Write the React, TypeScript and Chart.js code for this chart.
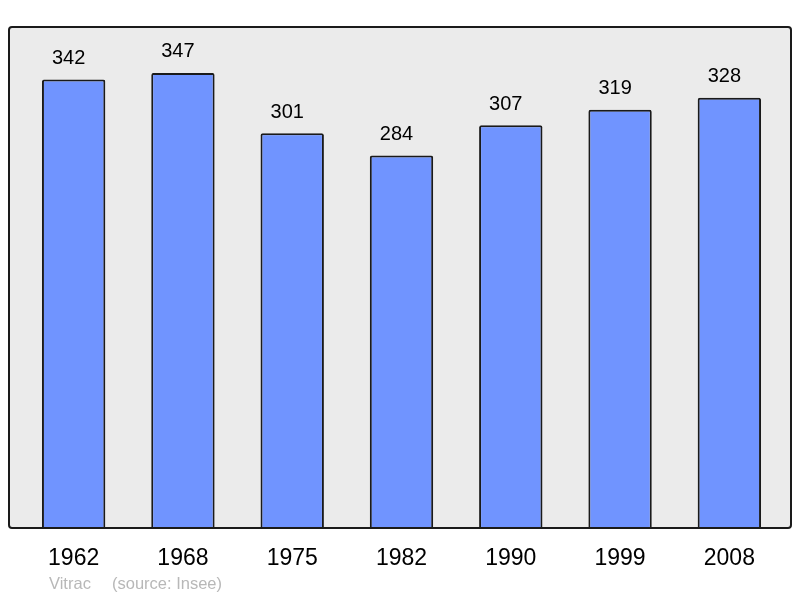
import React, { useEffect, useRef } from "react";
import { Chart, registerables } from "chart.js";

Chart.register(...registerables);

const years = ["1962", "1968", "1975", "1982", "1990", "1999", "2008"];
const population = [342, 347, 301, 284, 307, 319, 328];
const yMax = 382;
const sourceName = "Vitrac";
const sourceNote = "(source: Insee)";

const FONT = "'Liberation Sans', Arial, sans-serif";

const boxPlugin = {
  id: "boxPlugin",
  beforeDatasetsDraw(chart: any) {
    const { ctx, chartArea } = chart;
    const l = chartArea.left - 10;
    const r = chartArea.right + 7;
    const t = chartArea.top;
    const b = chartArea.bottom;
    ctx.save();
    ctx.beginPath();
    ctx.roundRect(l, t, r - l, b - t, 3);
    ctx.fillStyle = "#ebebeb";
    ctx.fill();
    ctx.restore();
  },
  afterDatasetsDraw(chart: any) {
    const { ctx, chartArea } = chart;
    const l = chartArea.left - 10;
    const r = chartArea.right + 7;
    const t = chartArea.top;
    const b = chartArea.bottom;
    ctx.save();
    ctx.beginPath();
    ctx.roundRect(l, t, r - l, b - t, 3);
    ctx.strokeStyle = "#1a1a1a";
    ctx.lineWidth = 2;
    ctx.stroke();
    // value labels
    const meta = chart.getDatasetMeta(0);
    ctx.fillStyle = "#000";
    ctx.font = `20px ${FONT}`;
    ctx.textAlign = "center";
    ctx.textBaseline = "middle";
    meta.data.forEach((bar: any, i: number) => {
      const v = chart.data.datasets[0].data[i];
      ctx.fillText(String(v), bar.x - 5, bar.y - 21);
    });
    // source
    ctx.fillStyle = "#b8b8b8";
    ctx.font = `16.5px ${FONT}`;
    ctx.textAlign = "left";
    ctx.fillText(sourceName, l + 40, 584);
    ctx.fillText(sourceNote, l + 103, 584);
    ctx.restore();
  },
};

export default function App() {
  const ref = useRef<HTMLCanvasElement | null>(null);
  useEffect(() => {
    if (!ref.current) return;
    const chart = new Chart(ref.current, {
      type: "bar",
      data: {
        labels: years,
        datasets: [
          {
            data: population,
            backgroundColor: "#7094ff",
            borderColor: "#1a1a1a",
            borderWidth: 2,
            borderRadius: 2,
            borderSkipped: "bottom",
            barPercentage: 0.58,
            categoryPercentage: 1,
          },
        ],
      },
      options: {
        responsive: false,
        animation: false,
        maintainAspectRatio: false,
        layout: { padding: { left: 19, right: 16, top: 27, bottom: 0 } },
        plugins: {
          legend: { display: false },
          tooltip: { enabled: false },
          title: { display: false },
        },
        scales: {
          x: {
            grid: { display: false, drawTicks: false },
            border: { display: false },
            ticks: {
              color: "#000",
              font: { size: 23, family: FONT },
              padding: 16.5,
              maxRotation: 0,
            },
            afterFit(scale: any) {
              scale.height = 70;
            },
          },
          y: {
            display: false,
            min: 0,
            max: yMax,
          },
        },
      },
      plugins: [boxPlugin],
    });
    return () => chart.destroy();
  }, []);
  return (
    <div style={{ position: "fixed", left: 0, top: 0, width: 800, height: 598, background: "#fff" }}>
      <canvas ref={ref} width={800} height={598} style={{ width: 800, height: 598 }} />
    </div>
  );
}
